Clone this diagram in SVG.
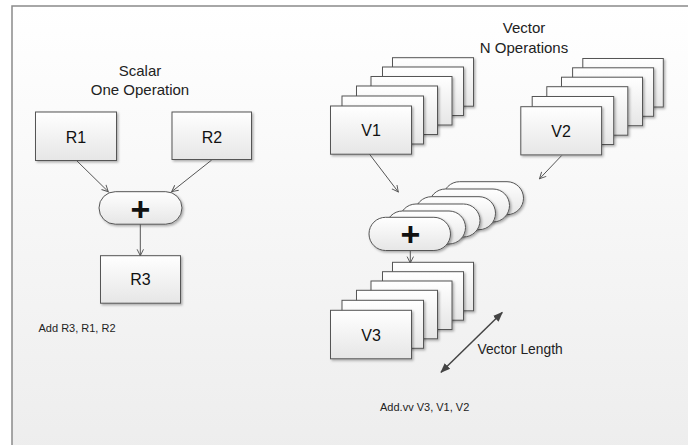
<svg xmlns="http://www.w3.org/2000/svg" width="688" height="445" viewBox="0 0 688 445">
<defs>
<linearGradient id="bg" x1="0" y1="0" x2="0" y2="1">
<stop offset="0" stop-color="#ffffff"/>
<stop offset="1" stop-color="#ededed"/>
</linearGradient>
<linearGradient id="boxfill" x1="0" y1="0" x2="0" y2="1">
<stop offset="0" stop-color="#ffffff"/>
<stop offset="1" stop-color="#e6e6e6"/>
</linearGradient>
<filter id="sh" x="-10%" y="-10%" width="130%" height="130%">
<feDropShadow dx="1.5" dy="1.5" stdDeviation="0.8" flood-color="#000" flood-opacity="0.3"/>
</filter>
<marker id="open" viewBox="0 0 10 10" refX="9" refY="5" markerWidth="8" markerHeight="8" markerUnits="userSpaceOnUse" orient="auto">
<path d="M1,1 L9,5 L1,9" fill="none" stroke="#555" stroke-width="1.2"/>
</marker>
<marker id="solid" viewBox="0 0 10 10" refX="9" refY="5" markerWidth="10" markerHeight="10" markerUnits="userSpaceOnUse" orient="auto-start-reverse">
<path d="M0,1 L10,5 L0,9 Z" fill="#444"/>
</marker>
</defs>
<style>
.box{fill:url(#boxfill);stroke:#555;stroke-width:1;filter:url(#sh)}
.lbl{font-family:"Liberation Sans",Arial,sans-serif;font-size:16px;fill:#111;text-anchor:middle}
.title{font-family:"Liberation Sans",Arial,sans-serif;font-size:15px;fill:#222;text-anchor:middle}
.note{font-family:"Liberation Sans",Arial,sans-serif;font-size:11px;fill:#222}
.plus{font-family:"Liberation Sans",Arial,sans-serif;font-size:34px;font-weight:bold;fill:#111;text-anchor:middle}
.conn{stroke:#555;stroke-width:1;fill:none;marker-end:url(#open)}
</style>

<rect x="0" y="0" width="688" height="445" fill="#ffffff"/>
<rect x="12" y="6" width="690" height="450" fill="url(#bg)" stroke="#8a8a8a" stroke-width="1.5"/>

<g id="scalar-title">
<text class="title" x="140" y="75.5">Scalar</text>
<text class="title" x="140" y="94.5">One Operation</text>
</g>
<g id="vector-title">
<text class="title" x="524" y="33">Vector</text>
<text class="title" x="524" y="52.5">N Operations</text>
</g>

<g id="R1">
<rect class="box" x="35.5" y="112" width="81" height="48.5"/>
<text class="lbl" x="76" y="142.5">R1</text>
</g>
<g id="R2">
<rect class="box" x="172" y="112" width="79.5" height="47.5"/>
<text class="lbl" x="212" y="142.5">R2</text>
</g>
<g id="scalar-add">
<rect class="box" x="99" y="191.7" width="83" height="32.5" rx="16.25"/>
<text class="plus" x="140.5" y="220.5">+</text>
</g>
<g id="R3">
<rect class="box" x="100.5" y="255.7" width="80" height="47.5"/>
<text class="lbl" x="140.5" y="284.5">R3</text>
</g>

<g id="V1">
<rect class="box" x="392.5" y="57.7" width="81" height="48.5"/>
<rect class="box" x="382.5" y="67" width="81" height="48.5"/>
<rect class="box" x="371" y="76.5" width="81" height="48.5"/>
<rect class="box" x="356.5" y="86" width="81" height="48.5"/>
<rect class="box" x="342" y="96" width="81.5" height="48"/>
<rect class="box" x="330.5" y="106" width="81" height="48.2"/>
<text class="lbl" x="371" y="136">V1</text>
</g>
<g id="V2">
<rect class="box" x="582.8" y="58.5" width="80.5" height="48.5"/>
<rect class="box" x="572.6" y="67.8" width="81" height="48.5"/>
<rect class="box" x="561.5" y="77.2" width="81" height="48.5"/>
<rect class="box" x="546.8" y="86.7" width="81" height="48.5"/>
<rect class="box" x="532.2" y="96.5" width="81.5" height="48"/>
<rect class="box" x="520.8" y="106.7" width="80.8" height="48.2"/>
<text class="lbl" x="561" y="137">V2</text>
</g>
<g id="vector-add">
<rect class="box" x="443" y="181.7" width="80.5" height="33" rx="16.5"/>
<rect class="box" x="429" y="189" width="80.5" height="33" rx="16.5"/>
<rect class="box" x="415" y="196.7" width="80.5" height="33" rx="16.5"/>
<rect class="box" x="399.5" y="204" width="80.5" height="33" rx="16.5"/>
<rect class="box" x="386" y="211" width="79.5" height="33" rx="16.5"/>
<rect class="box" x="369" y="217.3" width="81.5" height="33.2" rx="16.6"/>
<text class="plus" x="410.5" y="246.3">+</text>
</g>
<g id="V3">
<rect class="box" x="392.5" y="262.3" width="81" height="48.5"/>
<rect class="box" x="382.5" y="271.7" width="81" height="48.5"/>
<rect class="box" x="371" y="281" width="81" height="48.5"/>
<rect class="box" x="356.5" y="290.3" width="81" height="48.5"/>
<rect class="box" x="342" y="300.3" width="81.5" height="48"/>
<rect class="box" x="330.5" y="310.3" width="81" height="48.5"/>
<text class="lbl" x="371" y="340.5">V3</text>
</g>

<g id="labels">
<text class="note" x="38.5" y="332">Add R3, R1, R2</text>
<text class="note" x="380" y="411" font-size="11.5">Add.vv V3, V1, V2</text>
<text x="477.5" y="354" font-family="Liberation Sans, Arial, sans-serif" font-size="13.8" fill="#222">Vector Length</text>
</g>

<g id="connectors">
<line class="conn" x1="76.7" y1="160.7" x2="108.3" y2="191.7"/>
<line class="conn" x1="211.7" y1="160" x2="171.7" y2="191.7"/>
<line class="conn" x1="140.3" y1="224.3" x2="140.3" y2="255.7"/>
<line class="conn" x1="369.5" y1="154.2" x2="398.3" y2="192"/>
<line class="conn" x1="561.7" y1="155.5" x2="539.5" y2="178.8"/>
<line class="conn" x1="410.3" y1="250.5" x2="410.3" y2="263"/>
<line x1="441" y1="372.3" x2="502.2" y2="312.5" stroke="#444" stroke-width="1.5" marker-start="url(#solid)" marker-end="url(#solid)"/>
</g>
</svg>
